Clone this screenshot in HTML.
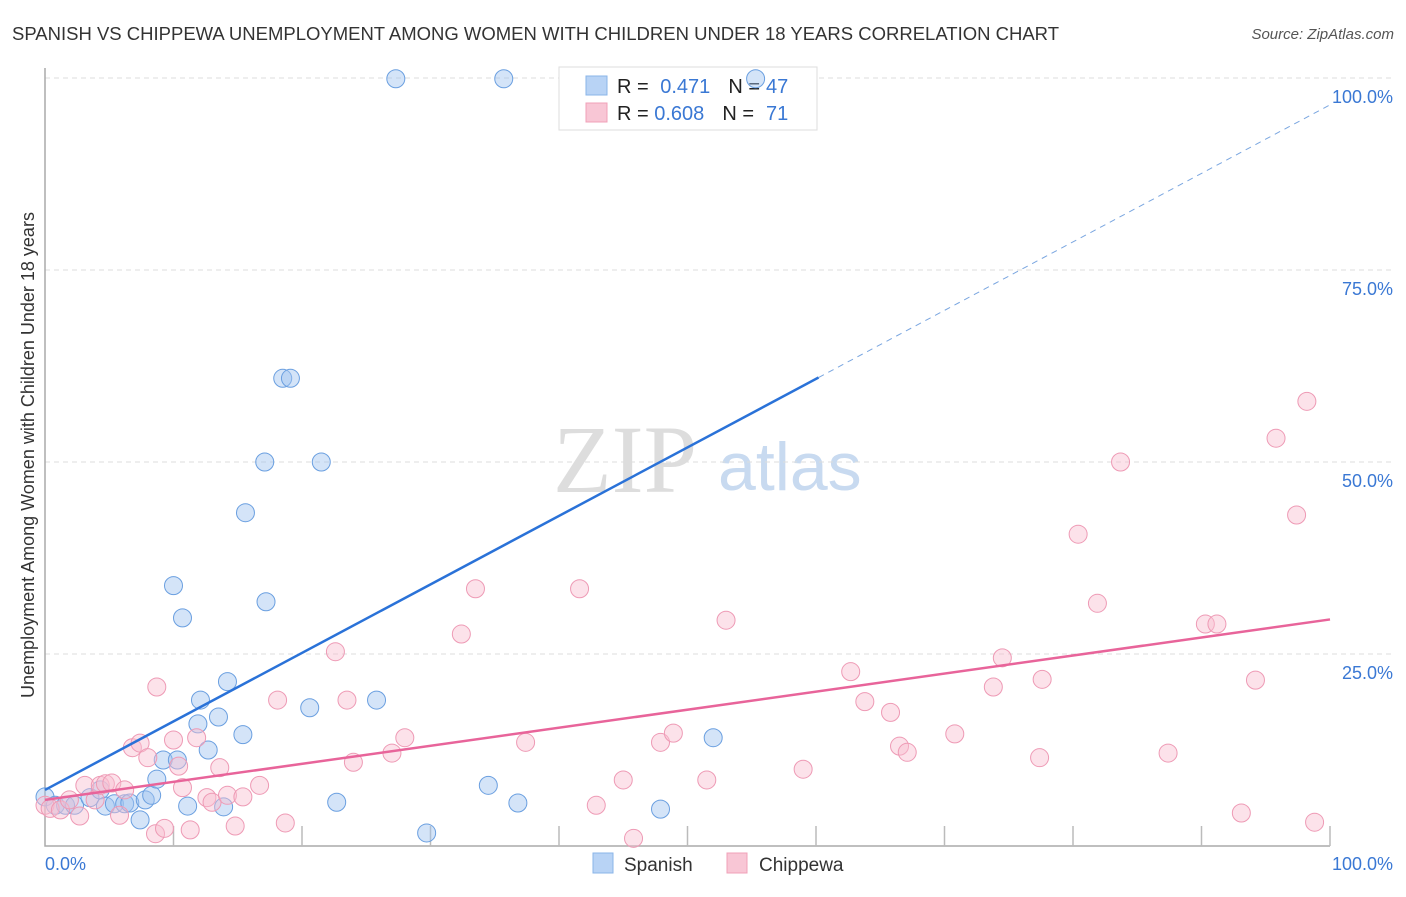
<!DOCTYPE html>
<html><head><meta charset="utf-8"><style>
body{margin:0;background:#fff;font-family:"Liberation Sans",sans-serif;}
</style></head><body>
<svg width="1406" height="892" xmlns="http://www.w3.org/2000/svg" id="svg">
<text x="12" y="40" font-size="18" fill="#333" textLength="1047" lengthAdjust="spacingAndGlyphs">SPANISH VS CHIPPEWA UNEMPLOYMENT AMONG WOMEN WITH CHILDREN UNDER 18 YEARS CORRELATION CHART</text>
<text x="1394" y="39" font-size="15" fill="#555" font-style="italic" text-anchor="end">Source: ZipAtlas.com</text>
<text x="34" y="455" font-size="18" fill="#333" text-anchor="middle" transform="rotate(-90 34 455)">Unemployment Among Women with Children Under 18 years</text>
<text x="553" y="492" font-size="96" fill="#ddd" font-family="Liberation Serif">ZIP</text>
<text x="718" y="490" font-size="68" fill="#c8daf0">atlas</text>
<g id="grid"></g>
<g>
<rect x="559" y="67" width="258" height="63" fill="#fff" stroke="#ddd"/>
<rect x="586" y="76" width="21" height="19" fill="#b8d3f5" stroke="#8ab4e8"/>
<rect x="586" y="103" width="21" height="19" fill="#f8c6d5" stroke="#f0a0b8"/>
<text x="617" y="93" font-size="20" fill="#222">R = <tspan fill="#3a78d4" dx="6">0.471</tspan><tspan fill="#222" dx="18">N =</tspan><tspan fill="#3a78d4" dx="6">47</tspan></text>
<text x="617" y="120" font-size="20" fill="#222">R = <tspan fill="#3a78d4">0.608</tspan><tspan fill="#222" dx="18">N =</tspan><tspan fill="#3a78d4" dx="12">71</tspan></text>
</g>
<g id="marks"></g>
<g>
<rect x="593" y="853" width="20" height="20" fill="#b8d3f5" stroke="#8ab4e8"/>
<text x="624" y="871" font-size="19" fill="#333">Spanish</text>
<rect x="727" y="853" width="20" height="20" fill="#f8c6d5" stroke="#f0a0b8"/>
<text x="759" y="871" font-size="19" fill="#333">Chippewa</text>
</g>
</svg>
<script>
const yTicks=[25,50,75,100];
const yTickLabels=["25.0%","50.0%","75.0%","100.0%"];
const xTickVals=[0,10,20,30,40,50,60,70,80,90,100];
const spanishX=[0,0.8,1.6,2.3,3.5,4.3,4.7,5.4,6.2,6.6,7.4,7.8,8.3,8.7,9.2,10.0,10.3,10.7,11.1,12.1,11.9,12.7,13.5,13.9,14.2,15.4,15.6,17.1,17.2,18.5,19.1,20.6,21.5,22.7,25.8,27.3,29.7,34.5,35.7,36.8,47.9,52.0,55.3];
const spanishY=[6.4,5.3,5.3,5.3,6.3,7.3,5.2,5.5,5.5,5.6,3.4,6.0,6.6,8.7,11.2,33.9,11.2,29.7,5.2,19.0,15.9,12.5,16.8,5.1,21.4,14.5,43.4,50.0,31.8,60.9,60.9,18.0,50.0,5.7,19.0,99.9,1.7,7.9,99.9,5.6,4.8,14.1,99.9];
const chipX=[0,0.4,1.2,1.9,2.7,3.1,3.9,4.3,4.7,5.2,5.8,6.2,6.8,7.4,8.0,8.6,8.7,9.3,10.0,10.4,10.7,11.3,11.8,12.6,13.0,13.6,14.2,14.8,15.4,16.7,18.1,18.7,22.6,23.5,24.0,27.0,28.0,32.4,33.5,37.4,41.6,42.9,45.0,45.8,47.9,48.9,51.5,53.0,59.0,62.7,63.8,65.8,66.5,67.1,70.8,73.8,74.5,77.4,77.6,80.4,81.9,83.7,87.4,90.3,91.2,93.1,94.2,95.8,97.4,98.2,98.8];
const chipY=[5.3,4.9,4.7,6.0,3.9,7.9,6.0,7.9,8.1,8.2,4.0,7.3,12.8,13.4,11.5,1.6,20.7,2.3,13.8,10.4,7.6,2.1,14.1,6.3,5.7,10.2,6.6,2.6,6.4,7.9,19.0,3.0,25.3,19.0,10.9,12.1,14.1,27.6,33.5,13.5,33.5,5.3,8.6,1.0,13.5,14.7,8.6,29.4,10.0,22.7,18.8,17.4,13.0,12.2,14.6,20.7,24.5,11.5,21.7,40.6,31.6,50.0,12.1,28.9,28.9,4.3,21.6,53.1,43.1,57.9,3.1];
const spanishTrend=[[0,7.3],[60.2,61.0]];
const spanishTrendExt=[[60.2,61.0],[100,96.5]];
const chipTrend=[[0,6.0],[100,29.5]];
const X0=45,X1=1330,Y0=846,Y1=78;
const sx=v=>X0+(X1-X0)*v/100, sy=v=>Y0-(Y0-Y1)*v/100;
const NS="http://www.w3.org/2000/svg";
function mk(t,a,p){const e=document.createElementNS(NS,t);for(const k in a)e.setAttribute(k,a[k]);p.appendChild(e);return e;}
const grid=document.getElementById('grid'),marks=document.getElementById('marks');
yTicks.forEach((t,i)=>{
 const l=mk('line',{x1:X0,x2:1394,y1:sy(t),y2:sy(t),stroke:'#ddd','stroke-dasharray':'5,4'},grid);
 
 
 const tx=mk('text',{x:1393,y:sy(t)+25,'font-size':18,fill:'#3a78d4','text-anchor':'end'},grid);
 tx.textContent=yTickLabels[i];
 
 
});
const ax=mk('path',{d:`M${X0} 68 V${Y0} H${X1}`,stroke:'#aaa',fill:'none','stroke-width':1.5},grid);


xTickVals.forEach(v=>{if(v===0)return;
 const t=mk('line',{x1:sx(v),x2:sx(v),y1:Y0,y2:Y0-20,stroke:'#bbb','stroke-width':1.5},grid);
 
 
});
const xl0=mk('text',{x:45,y:870,'font-size':18,fill:'#3a78d4'},grid);xl0.textContent='0.0%';


const xl1=mk('text',{x:1393,y:870,'font-size':18,fill:'#3a78d4','text-anchor':'end'},grid);xl1.textContent='100.0%';


spanishX.forEach((x,i)=>{const c=mk('circle',{cx:sx(x),cy:sy(spanishY[i]),r:9,fill:'rgba(160,196,240,0.45)',stroke:'#6a9fe0','stroke-width':1},marks);
 
 });
chipX.forEach((x,i)=>{const c=mk('circle',{cx:sx(x),cy:sy(chipY[i]),r:9,fill:'rgba(248,190,208,0.45)',stroke:'#ee9ab5','stroke-width':1},marks);
 
 });
function ln(p,st,dash,w,name){const l=mk('line',{x1:sx(p[0][0]),y1:sy(p[0][1]),x2:sx(p[1][0]),y2:sy(p[1][1]),stroke:st,'stroke-width':w},marks);if(dash)l.setAttribute('stroke-dasharray',dash);
 
 }
ln(spanishTrend,'#2a72d8',null,2.5,'spanish-trendline');
ln(spanishTrendExt,'#7aa6e0','6,5',1,'spanish-trendline-extension');
ln(chipTrend,'#e8649a',null,2.5,'chippewa-trendline');
</script>
</body></html>
